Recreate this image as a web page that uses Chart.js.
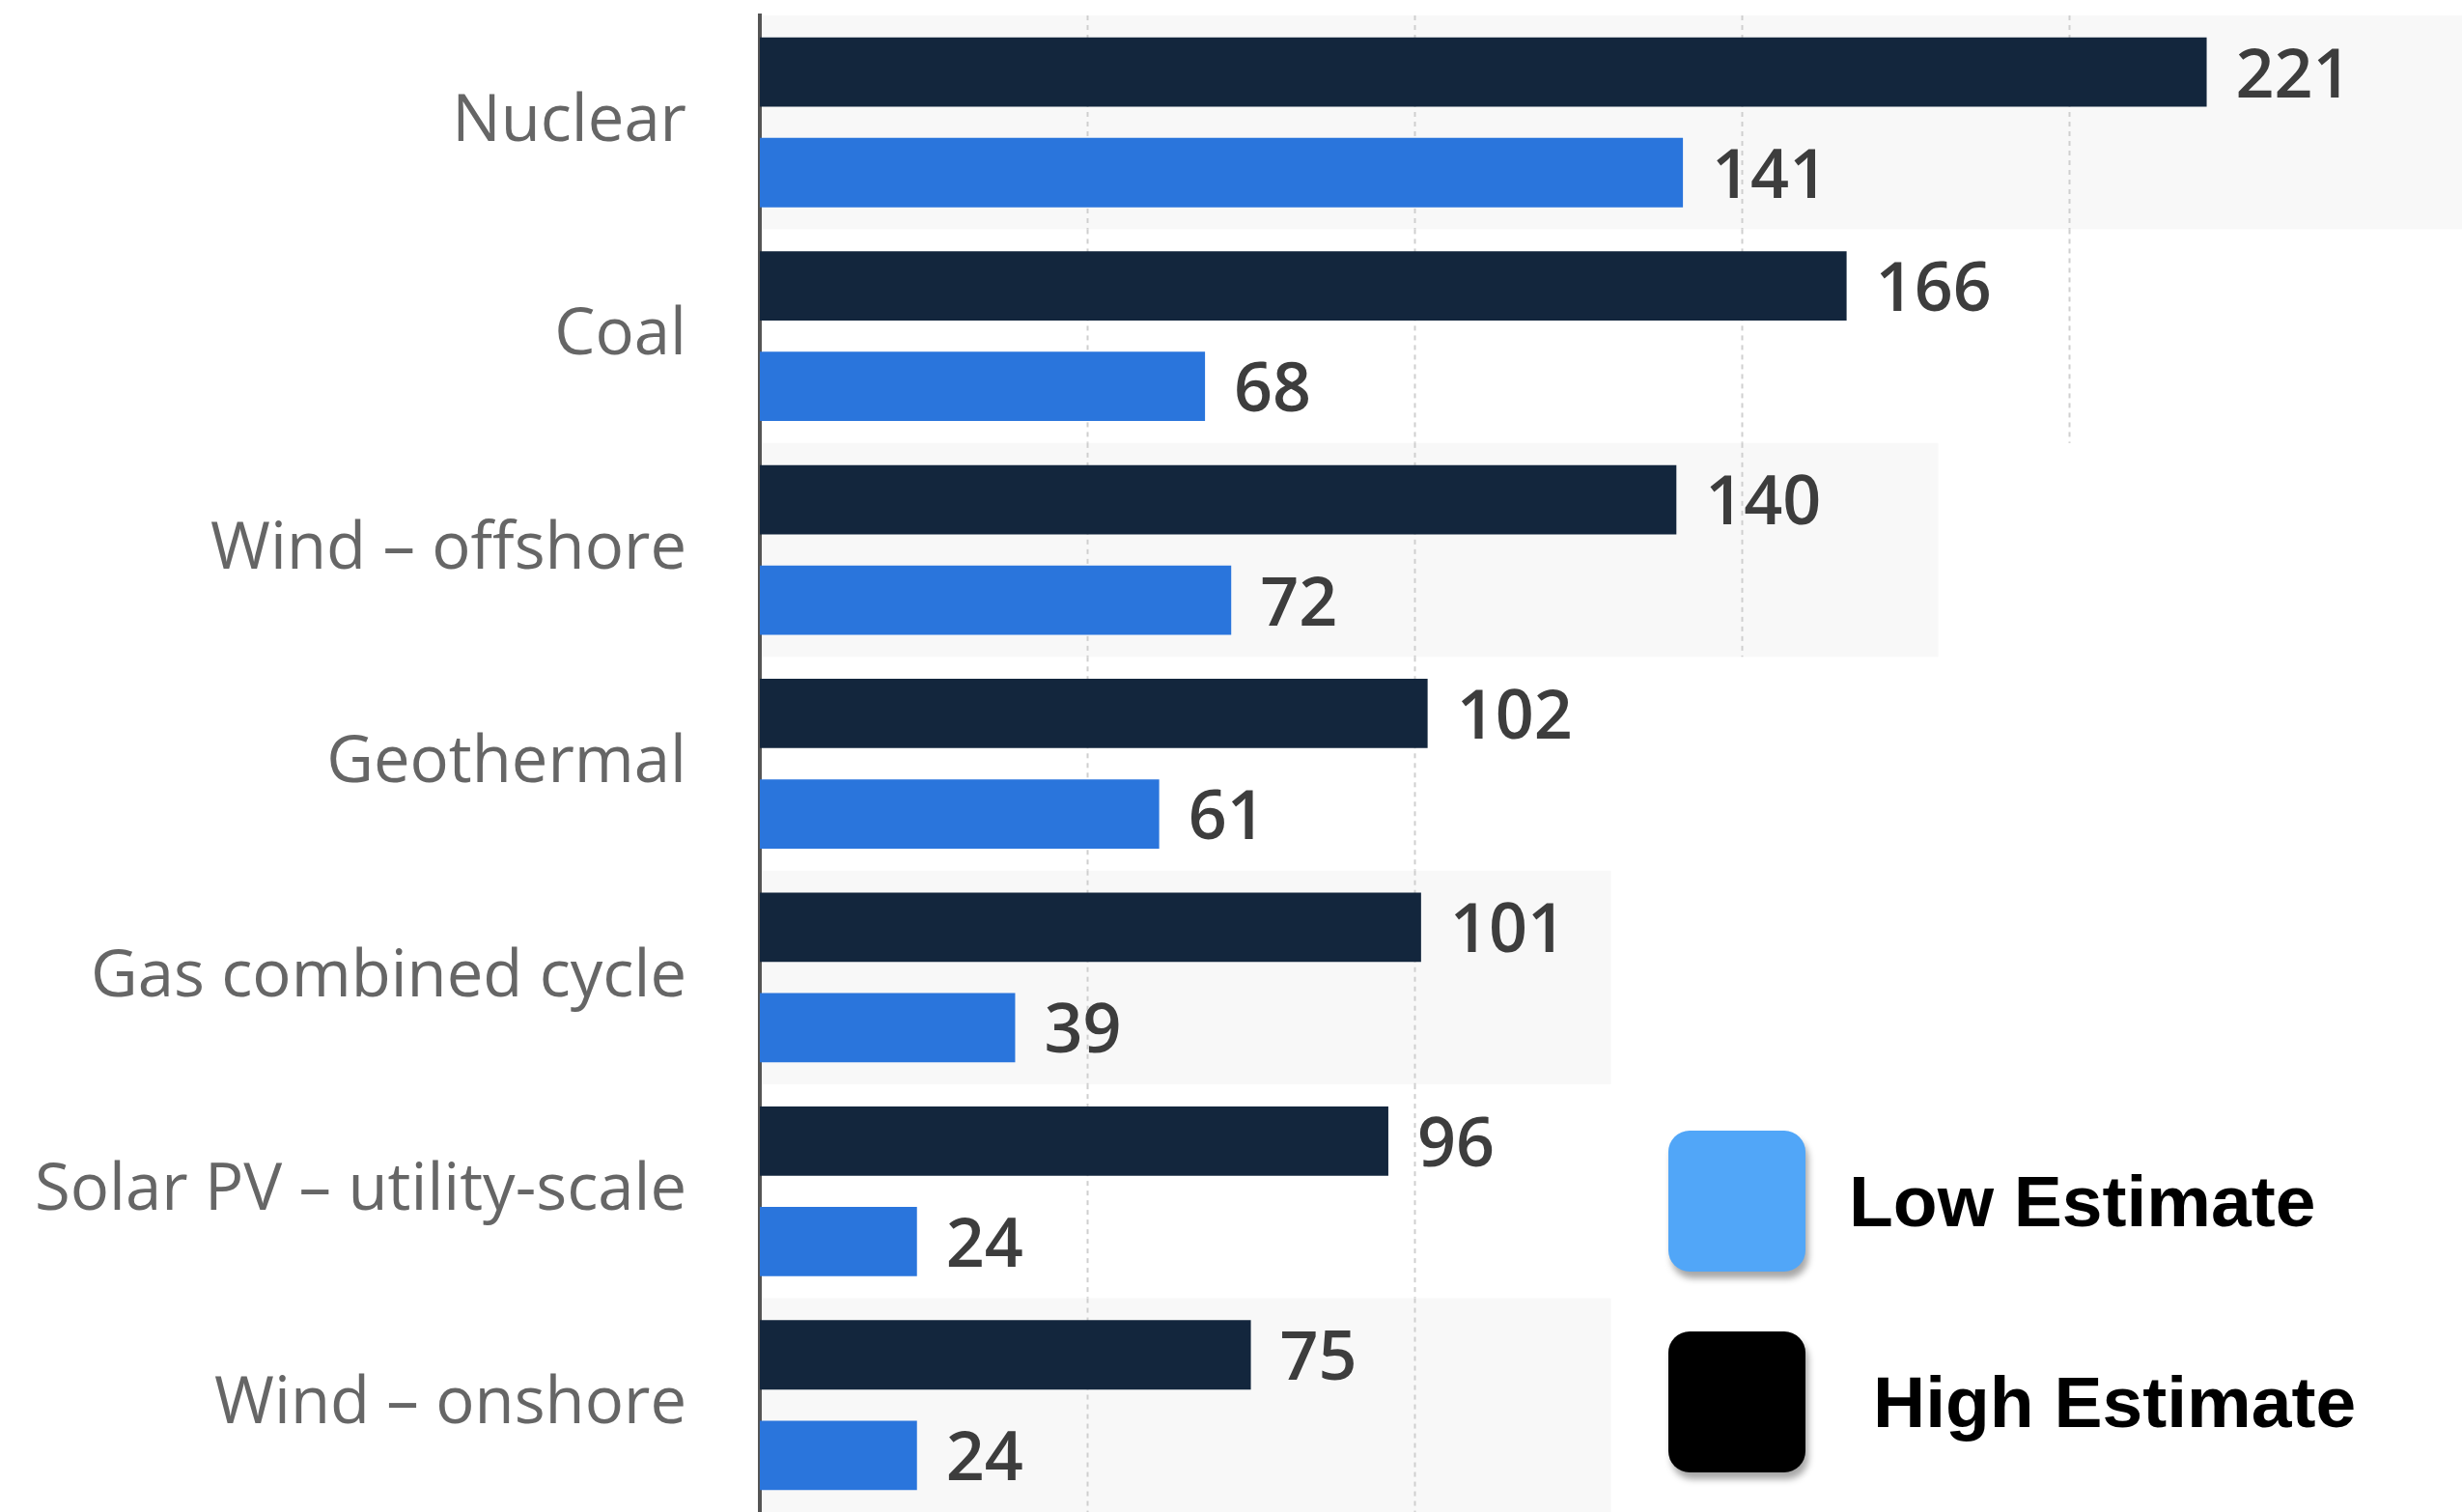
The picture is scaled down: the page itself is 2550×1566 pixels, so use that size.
<!DOCTYPE html>
<html>
<head>
<meta charset="utf-8">
<script src="https://cdn.jsdelivr.net/npm/chart.js@4.4.1/dist/chart.umd.min.js"></script>
<style>
  html, body { margin: 0; padding: 0; background: #fff; }
  #wrap { position: relative; width: 2550px; height: 1566px; }
  #legend { position: absolute; left: 1728px; top: 1171px; font-family: "Liberation Sans", Arial, sans-serif; font-weight: bold; color: #000; }
  .item { position: absolute; left: 0; width: 460px; height: 146px; white-space: nowrap; }
  .box { position: absolute; left: 0; top: 0; width: 142px; height: 146px; border-radius: 22px; box-shadow: 3px 7px 7px rgba(0,0,0,0.35); }
  .txt { position: absolute; top: 28px; font-size: 75px; line-height: 90px; }
</style>
</head>
<body>
<div id="wrap">
  <canvas id="barchart"></canvas>
  <div id="legend"></div>
</div>
<script>
categories = ['Nuclear', 'Coal', 'Wind – offshore', 'Geothermal', 'Gas combined cycle', 'Solar PV – utility-scale', 'Wind – onshore']
high_estimate = [221, 166, 140, 102, 101, 96, 75]
low_estimate = [141, 68, 72, 61, 39, 24, 24]

// row panels: gray fill or not, how far the fill and the dashed grid reach (in axis units)
panel_fill = [true, false, true, false, true, false, true]
panel_fill_end = [260, 0, 180, 0, 130, 0, 130]
panel_grid_end = [200, 200, 150, 100, 100, 100, 100]

legend_items = [
    { label: 'Low Estimate', color: '#51a6f8', top: 0, textLeft: 187 },
    { label: 'High Estimate', color: '#000000', top: 208, textLeft: 212 }
]

let legend_html = ''
for (let i = 0; i < legend_items.length; i++) {
    legend_html += '<div class="item" style="top:' + legend_items[i].top + 'px">' +
        '<div class="box" style="background:' + legend_items[i].color + '"></div>' +
        '<div class="txt" style="left:' + legend_items[i].textLeft + 'px">' + legend_items[i].label + '</div></div>'
}
document.getElementById('legend').innerHTML = legend_html

const panels = {
    id: 'panels',
    beforeDraw(chart) {
        const ctx = chart.ctx
        const x = chart.scales.x
        const y = chart.scales.y
        const area = chart.chartArea
        const band = (area.bottom - area.top) / categories.length
        ctx.save()
        for (let i = 0; i < categories.length; i++) {
            const top = y.getPixelForValue(i) - band / 2
            if (panel_fill[i]) {
                ctx.fillStyle = '#f8f8f8'
                const right = Math.min(x.getPixelForValue(panel_fill_end[i]), chart.width)
                ctx.fillRect(area.left, top, right - area.left, band)
            }
            ctx.strokeStyle = '#cfcfcf'
            ctx.lineWidth = 2
            ctx.setLineDash([5, 5])
            for (let v = 50; v <= panel_grid_end[i]; v += 50) {
                const px = Math.round(x.getPixelForValue(v)) + 0.5
                ctx.beginPath()
                ctx.moveTo(px, top)
                ctx.lineTo(px, top + band)
                ctx.stroke()
            }
        }
        ctx.restore()
    }
}

const value_labels = {
    id: 'value_labels',
    afterDatasetsDraw(chart) {
        const ctx = chart.ctx
        ctx.save()
        ctx.font = '600 70px "Open Sans"'
        ctx.fillStyle = '#3d3d3d'
        ctx.textAlign = 'left'
        ctx.textBaseline = 'middle'
        chart.data.datasets.forEach((ds, di) => {
            chart.getDatasetMeta(di).data.forEach((bar, i) => {
                ctx.fillText(ds.data[i], bar.x + 30, bar.y + 6)
            })
        })
        ctx.restore()
    }
}

new Chart(
    document.getElementById('barchart'),
    {
        type: 'bar',
        data: {
            labels: categories,
            datasets: [
                {
                    label: 'High Estimate',
                    data: high_estimate,
                    backgroundColor: '#13263d',
                    categoryPercentage: 0.94,
                    barPercentage: 0.69
                },
                {
                    label: 'Low Estimate',
                    data: low_estimate,
                    backgroundColor: '#2a75dc',
                    categoryPercentage: 0.94,
                    barPercentage: 0.69
                }
            ]
        },
        options: {
            indexAxis: 'y',
            responsive: true,
            maintainAspectRatio: false,
            devicePixelRatio: 1,
            animation: false,
            layout: {
                padding: { top: 16, left: 0, right: 0, bottom: 0 }
            },
            plugins: {
                legend: { display: false },
                tooltip: { enabled: false }
            },
            scales: {
                x: {
                    display: false,
                    min: 0,
                    max: 260
                },
                y: {
                    afterFit(scale) {
                        scale.width = 787
                        scale.paddingTop = 0
                        scale.paddingBottom = 0
                    },
                    grid: { display: false, drawTicks: false },
                    border: { display: true, color: '#555555', width: 4 },
                    ticks: {
                        padding: 76,
                        color: '#666666',
                        font: { family: '"Open Sans"', size: 67 }
                    }
                }
            }
        },
        plugins: [panels, value_labels]
    }
);
</script>
</body>
</html>
